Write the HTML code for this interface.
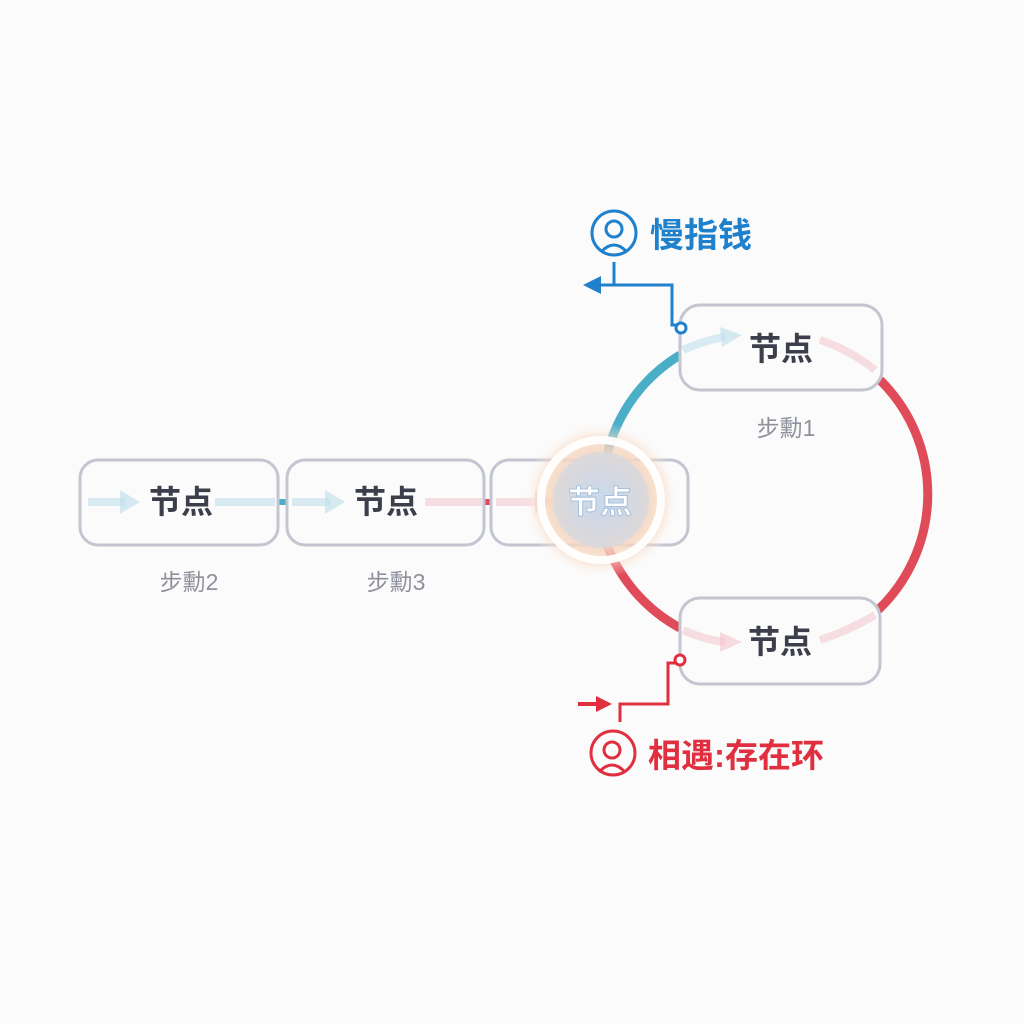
<!DOCTYPE html>
<html><head><meta charset="utf-8"><style>
body{margin:0;width:1024px;height:1024px;background:#fbfbfb;overflow:hidden}
svg{display:block}
text{font-family:"Liberation Sans","Noto Sans CJK SC",sans-serif}
</style></head><body>
<svg width="1024" height="1024" viewBox="0 0 1024 1024">
<defs>
<radialGradient id="glow" cx="50%" cy="50%" r="50%">
<stop offset="0%" stop-color="#c9d9ee"/>
<stop offset="55%" stop-color="#f3d8c4"/>
<stop offset="80%" stop-color="#f8d6bd" stop-opacity="0.6"/>
<stop offset="100%" stop-color="#fbfbfb" stop-opacity="0"/>
</radialGradient>
</defs>
<path d="M680 355 A160 160 0 0 0 607 455" fill="none" stroke="#4aaec6" stroke-width="9"/>
<path d="M607 545 A160 160 0 0 0 680 628" fill="none" stroke="#e04b5a" stroke-width="9"/>
<path d="M880 380 A160 160 0 0 1 878 610" fill="none" stroke="#e04b5a" stroke-width="9"/>
<line x1="278" y1="502" x2="287" y2="502" stroke="#4aaec6" stroke-width="6"/>
<line x1="484" y1="502" x2="491" y2="502" stroke="#e04b5a" stroke-width="6"/>
<g fill="#fbfbfc" stroke="#c3c6d0" stroke-width="3">
<rect x="80" y="460" width="198" height="85" rx="18"/>
<rect x="287" y="460" width="197" height="85" rx="18"/>
<rect x="491" y="460" width="197" height="85" rx="18"/>
<rect x="680" y="305" width="202" height="85" rx="20"/>
<rect x="680" y="598" width="200" height="86" rx="20"/>
</g>
<g stroke-width="8" fill="none" opacity="0.55">
<line x1="88" y1="502" x2="125" y2="502" stroke="#bcdde9"/>
<line x1="215" y1="502" x2="275" y2="502" stroke="#bcdde9"/>
<line x1="292" y1="502" x2="330" y2="502" stroke="#bcdde9"/>
<line x1="425" y1="502" x2="482" y2="502" stroke="#f3c5cb"/>
<line x1="496" y1="502" x2="540" y2="502" stroke="#f3c5cb"/>
<path d="M683 350 Q705 340 725 337" stroke="#bcdde9"/>
<path d="M820 340 Q850 350 875 370" stroke="#f3c5cb"/>
<path d="M683 630 Q705 640 725 642" stroke="#f3c5cb"/>
<path d="M820 640 Q850 630 875 615" stroke="#f3c5cb"/>
</g>
<g opacity="0.6">
<polygon points="120,490 140,502 120,514" fill="#bcdde9"/>
<polygon points="325,490 345,502 325,514" fill="#bcdde9"/>
<polygon points="535,490 555,502 535,514" fill="#f3c5cb"/>
<polygon points="720,327 742,335 722,347" fill="#bcdde9"/>
<polygon points="720,632 742,642 720,652" fill="#f3c5cb"/>
</g>
<g font-size="32" font-weight="bold" fill="#3c3f4b" text-anchor="middle">
<text x="181" y="513">节点</text>
<text x="386" y="513">节点</text>
<text x="781" y="360">节点</text>
<text x="780" y="653">节点</text>
</g>
<circle cx="601" cy="500" r="78" fill="url(#glow)"/>
<circle cx="601" cy="500" r="60" fill="none" stroke="#fff" stroke-width="8" opacity="0.95"/>
<circle cx="601" cy="500" r="48" fill="#c7d8ec" opacity="0.55"/>
<text x="600" y="513" font-size="32" font-weight="bold" fill="#fff" stroke="#a9c0dc" stroke-width="1" text-anchor="middle">节点</text>
<g font-size="23" fill="#8e919c" text-anchor="middle">
<text x="189" y="590">步勳2</text>
<text x="396" y="590">步勳3</text>
<text x="786" y="436">步勳1</text>
</g>
<g stroke="#1f80cc" stroke-width="3" fill="none">
<circle cx="614" cy="233" r="22"/>
<circle cx="614" cy="229" r="8"/>
<path d="M601 252 Q614 238 627 252"/>
<path d="M614 262 V285 M597 285 H672 V325 H679"/>
</g>
<polygon points="583,285 601,276 601,294" fill="#1f80cc"/>
<circle cx="681" cy="328" r="5" fill="#fff" stroke="#1f80cc" stroke-width="3"/>
<text x="650" y="247" font-size="34" font-weight="bold" fill="#1f80cc">慢指钱</text>
<g stroke="#e03040" stroke-width="3" fill="none">
<path d="M620 722 V704 H668 V663 H676"/>
<circle cx="613" cy="753" r="22"/>
<circle cx="612" cy="750" r="8"/>
<path d="M599 772 Q612 758 625 772"/>
</g>
<line x1="578" y1="704" x2="600" y2="704" stroke="#e03040" stroke-width="4"/>
<polygon points="596,696 612,704 596,712" fill="#e03040"/>
<circle cx="680" cy="660" r="5" fill="#fff" stroke="#e03040" stroke-width="3"/>
<text x="648" y="767" font-size="33" font-weight="bold" fill="#e03040">相遇:存在环</text>
</svg>
</body></html>
